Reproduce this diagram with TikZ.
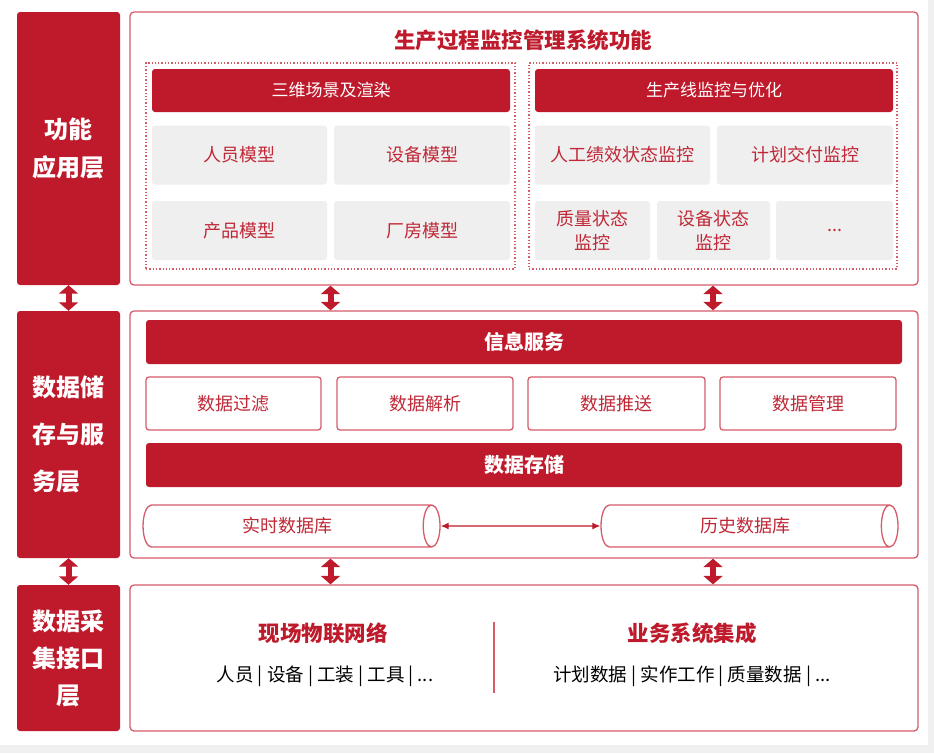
\documentclass[tikz,border=0pt]{standalone}
\usepackage{fontspec}
\setmainfont{Noto Sans CJK SC}
\usetikzlibrary{shapes.geometric,arrows.meta,calc}
\definecolor{mred}{RGB}{190,26,43}
\definecolor{bred}{RGB}{214,92,106}
\definecolor{gfill}{RGB}{239,239,239}
\definecolor{tred}{RGB}{192,40,55}
\definecolor{pagegray}{RGB}{240,240,240}
\begin{document}
\begin{tikzpicture}[x=1pt,y=-1pt,
  layerbox/.style={fill=mred, rounded corners=3pt, text=white, inner sep=0pt,
    minimum width=103pt, font=\bfseries\fontsize{24}{38}\selectfont},
  panel/.style={draw=bred, line width=1.3pt, rounded corners=4pt, fill=white,
    minimum width=788pt, inner sep=0pt},
  dotbox/.style={draw=bred, dotted, line width=1.3pt, inner sep=0pt,
    minimum height=206pt},
  hdr/.style={fill=mred, rounded corners=3pt, text=white, inner sep=0pt,
    minimum width=358pt, minimum height=43pt, font=\fontsize{17}{20}\selectfont},
  graybox/.style={fill=gfill, rounded corners=3pt, text=tred, inner sep=0pt,
    minimum height=59pt, align=center, font=\fontsize{18}{24}\selectfont},
  obox/.style={draw=bred, line width=1.3pt, rounded corners=3pt, text=tred,
    inner sep=0pt, minimum height=53pt, font=\fontsize{18}{22}\selectfont},
  bar/.style={fill=mred, rounded corners=3pt, text=white, inner sep=0pt,
    minimum width=756pt, minimum height=44pt, font=\bfseries\fontsize{20}{24}\selectfont},
  db/.style={cylinder, draw=bred, line width=1.3pt, aspect=1, inner sep=0pt,
    text=tred, minimum width=42pt, minimum height=297pt,
    font=\fontsize{18}{22}\selectfont},
  fat/.style={draw=mred, line width=6pt,
    {Triangle[width=19pt,length=8.5pt]}-{Triangle[width=19pt,length=8.5pt]}},
  thinarr/.style={draw=mred, line width=1.3pt,
    {Latex[length=8pt,width=7pt]}-{Latex[length=8pt,width=7pt]}},
  title/.style={text=mred, font=\bfseries\fontsize{21.5}{24}\selectfont},
  subhead/.style={text=mred, font=\bfseries\fontsize{21.5}{24}\selectfont},
  item/.style={text=black, font=\fontsize{18.5}{22}\selectfont}
]
\useasboundingbox (0,0) rectangle (934,753);
\fill[pagegray] (0,0) rectangle (934,753);
\fill[white] (0,0) rectangle (928,745);

% left layer labels
\node[layerbox, minimum height=273pt, align=center] (L1) at (68.5,148.5) {功能\\应用层};
\node[layerbox, minimum height=247pt, align=left, font=\bfseries\fontsize{24}{47}\selectfont] (L2) at (68.5,434.5) {数据储\\存与服\\务层};
\node[layerbox, minimum height=146pt, align=center, font=\bfseries\fontsize{24}{37}\selectfont] (L3) at (68.5,658) {数据采\\集接口\\层};

% panels
\node[panel, minimum height=273pt] (A) at (524,148.5) {};
\node[panel, minimum height=247pt] (B) at (524,434.5) {};
\node[panel, minimum height=146pt] (C) at (524,658) {};

% panel A
\node[title] (tA) at (523,40) {生产过程监控管理系统功能};
\node[dotbox, minimum width=369pt] (dotL) at (330.5,166) {};
\node[dotbox, minimum width=368pt] (dotR) at (713,166) {};
\node[hdr] (hL) at (331,90.5) {三维场景及渲染};
\node[hdr] (hR) at (714,90.5) {生产线监控与优化};
\node[graybox, minimum width=175pt] (g1) at (239.5,155) {人员模型};
\node[graybox, minimum width=176pt] (g2) at (422,155) {设备模型};
\node[graybox, minimum width=175pt] (g3) at (239.5,230.5) {产品模型};
\node[graybox, minimum width=176pt] (g4) at (422,230.5) {厂房模型};
\node[graybox, minimum width=175pt] (g5) at (622.5,155) {人工绩效状态监控};
\node[graybox, minimum width=176pt] (g6) at (805,155) {计划交付监控};
\node[graybox, minimum width=115pt] (g7) at (592.5,230.5) {质量状态\\监控};
\node[graybox, minimum width=113pt] (g8) at (713.5,230.5) {设备状态\\监控};
\node[graybox, minimum width=117pt] (g9) at (834.5,230.5) {...};

% panel B
\node[bar] (info) at (524,342) {信息服务};
\node[obox, minimum width=175pt] (o1) at (233.5,403.5) {数据过滤};
\node[obox, minimum width=176pt] (o2) at (425,403.5) {数据解析};
\node[obox, minimum width=177pt] (o3) at (616.5,403.5) {数据推送};
\node[obox, minimum width=176pt] (o4) at (808,403.5) {数据管理};
\node[bar] (store) at (524,465) {数据存储};
\node[db] (rt) at (287,526) {实时数据库};
\node[db] (hist) at (745,526) {历史数据库};
\draw[thinarr] (rt.east) -- (hist.west);

% panel C
\node[subhead] (iot) at (323,633) {现场物联网络};
\node[item] (iotl) at (325,676) {人员 | 设备 | 工装 | 工具 | ...};
\node[subhead] (biz) at (692,633) {业务系统集成};
\node[item] (bizl) at (692,676) {计划数据 | 实作工作 | 质量数据 | ...};
\coordinate (d1) at (494,622);
\coordinate (d2) at (494,693);
\draw[bred, line width=1.3pt] (d1) -- (d2);

% vertical arrows
\draw[fat] (L1.south) -- (L2.north);
\draw[fat] (L2.south) -- (L3.north);
\draw[fat] (A.south -| dotL) -- (B.north -| dotL);
\draw[fat] (A.south -| dotR) -- (B.north -| dotR);
\draw[fat] (B.south -| dotL) -- (C.north -| dotL);
\draw[fat] (B.south -| dotR) -- (C.north -| dotR);
\end{tikzpicture}
\end{document}
